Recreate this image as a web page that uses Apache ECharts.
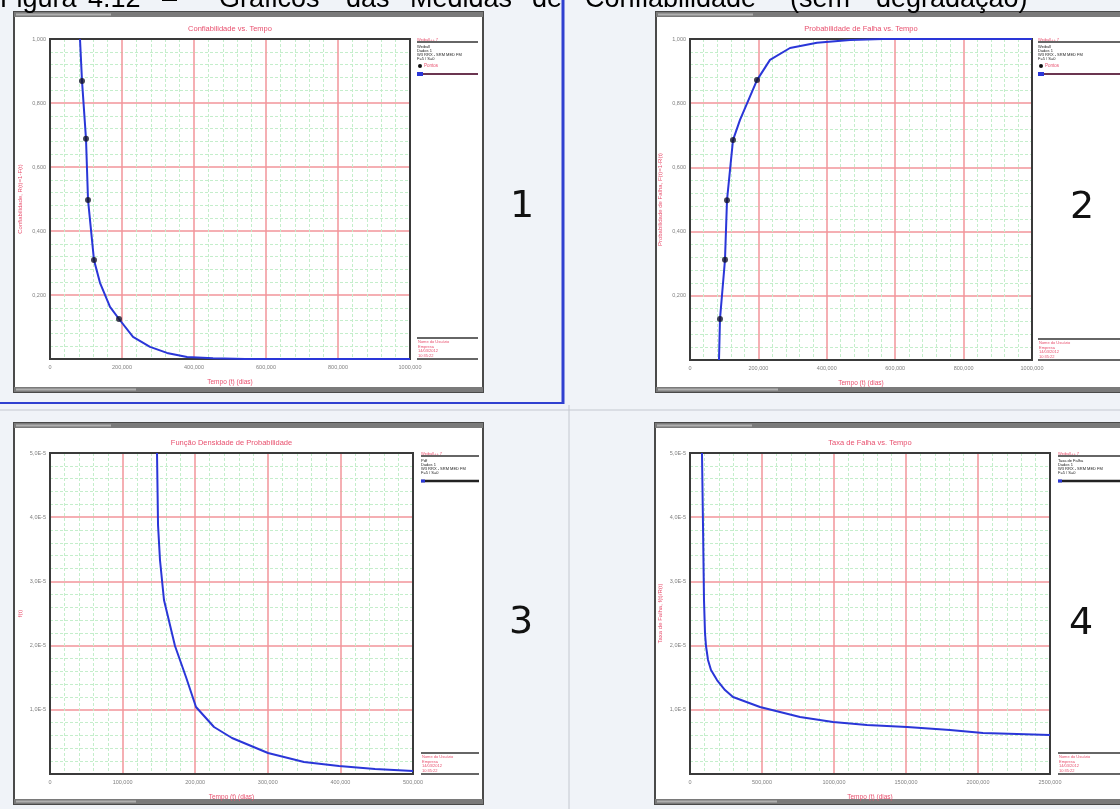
<!DOCTYPE html>
<html><head><meta charset="utf-8">
<script src="https://cdn.jsdelivr.net/npm/echarts@6/dist/echarts.min.js"></script>
<style>html,body{margin:0;padding:0;background:#f0f3f8}#c{width:1120px;height:809px}</style>
</head><body><div id="c"></div>
<script>
// ---------------- DATA ----------------
// Panel 1: Confiabilidade vs. Tempo
const rCurveT = [83300, 88900, 100000, 105600, 122200, 138900, 166700, 191700, 230600, 277800, 325000, 380600, 452800, 541700, 1000000];
const rCurveR = [1.0, 0.869, 0.688, 0.497, 0.309, 0.238, 0.163, 0.125, 0.069, 0.038, 0.019, 0.006, 0.002, 0.0, 0.0];
const rPtsT = [88900, 100000, 105600, 122200, 191700];
const rPtsR = [0.869, 0.688, 0.497, 0.309, 0.125];
// Panel 2: Probabilidade de Falha vs. Tempo
const fCurveT = [84800, 87700, 102300, 108200, 125700, 146200, 195900, 233900, 292400, 371300, 467800, 564300, 1000000];
const fCurveF = [0, 0.128, 0.312, 0.498, 0.685, 0.748, 0.872, 0.935, 0.972, 0.988, 0.997, 1.0, 1.0];
const fPtsT = [87700, 102300, 108200, 125700, 195900];
const fPtsF = [0.128, 0.312, 0.498, 0.685, 0.872];
// Panel 3: Função Densidade de Probabilidade (x 1E-5)
const pdfT = [147400, 148800, 151500, 157000, 172200, 187300, 201100, 225900, 250700, 300300, 349900, 398100, 447700, 500000];
const pdfV = [5.0, 3.879, 3.333, 2.710, 1.994, 1.511, 1.044, 0.732, 0.561, 0.327, 0.187, 0.125, 0.078, 0.047];
// Panel 4: Taxa de Falha vs. Tempo (x 1E-5)
const hazT = [83300, 90300, 97200, 104200, 111100, 125000, 145800, 187500, 243100, 298600, 486100, 763900, 993100, 1229200, 1506900, 1805600, 2034700, 2270800, 2500000];
const hazV = [5.0, 3.879, 2.710, 2.196, 1.994, 1.776, 1.620, 1.464, 1.308, 1.199, 1.044, 0.888, 0.810, 0.763, 0.732, 0.685, 0.639, 0.623, 0.607];
// axis ranges
const xMax = [1000000, 1000000, 500000, 2500000];
const yMax = [1, 1, 5, 5];
// texts
const panelTitles = ['Confiabilidade vs. Tempo', 'Probabilidade de Falha vs. Tempo', 'Função Densidade de Probabilidade', 'Taxa de Falha vs. Tempo'];
const yTitles = ['Confiabilidade, R(t)=1-F(t)', 'Probabilidade de Falha, F(t)=1-R(t)', 'f(t)', 'Taxa de Falha, f(t)/R(t)'];
const xTitle = 'Tempo (t) (dias)';
const captionWords = ['Figura', '4.12', '–', 'Gráficos', 'das', 'Medidas', 'de', 'Confiabilidade', '(sem', 'degradação)'];
const legendTop = [
  ['Weibull', 'Dados 1', 'W3 RRX - SRM MED FM', 'F=5 / S=0'],
  ['Weibull', 'Dados 1', 'W3 RRX - SRM MED FM', 'F=5 / S=0'],
  ['Pdf', 'Dados 1', 'W3 RRX - SRM MED FM', 'F=5 / S=0'],
  ['Taxa de Falha', 'Dados 1', 'W3 RRX - SRM MED FM', 'F=5 / S=0']
];
const legendBottom = ['Nome do Usuário', 'Empresa', '14/03/2012', '10:35:22'];

// ---------------- LAYOUT ----------------
const FONT = 'Liberation Sans, Arial, sans-serif';
const RED = '#e8506e', GMAJ = '#f2959a', GMIN = '#c4eecb', BLUE = '#2a36d8';
const grids = [
  {left: 50, top: 39, width: 360, height: 320},
  {left: 690, top: 39, width: 342, height: 321},
  {left: 50, top: 453, width: 363, height: 321},
  {left: 690, top: 453, width: 360, height: 321}
];
const frames = [
  {x: 14, y: 12, w: 469, h: 380},
  {x: 656, y: 12, w: 480, h: 380},
  {x: 14, y: 423, w: 469, h: 381},
  {x: 655, y: 423, w: 480, h: 381}
];
const legendX = [[417, 478], [1038, 1125], [421, 479], [1058, 1125]];
const digitPos = [[522, 207, '1'], [1082, 208, '2'], [521, 623, '3'], [1081, 624, '4']];
const capX = [0, 88, 162, 219, 346, 410, 532, 585, 790, 876];

const fmtX = v => v === 0 ? '0' : (v / 1000).toFixed(0) + ',000';
const fmtY01 = v => v === 0 ? '' : v.toFixed(3).replace('.', ',');
const fmtYE = v => v === 0 ? '' : v.toFixed(1).replace('.', ',') + 'E-5';

const majorLine = {show: true, lineStyle: {color: GMAJ, width: 1.5}};
const minorLine = {show: true, lineStyle: {color: GMIN, width: 1, type: [3, 2]}};

const xAxes = [], yAxes = [];
for (let i = 0; i < 4; i++) {
  xAxes.push({
    gridIndex: i, type: 'value', min: 0, max: xMax[i], interval: xMax[i] / 5,
    name: xTitle, nameLocation: 'middle', nameGap: 20,
    nameTextStyle: {color: RED, fontSize: 6.5, fontFamily: FONT},
    axisLine: {show: false}, axisTick: {show: false},
    axisLabel: {fontSize: 5.5, color: '#808080', margin: 5, formatter: fmtX, fontFamily: FONT},
    splitLine: majorLine,
    minorTick: {show: false, splitNumber: 5},
    minorSplitLine: minorLine
  });
  yAxes.push({
    gridIndex: i, type: 'value', min: 0, max: yMax[i], interval: yMax[i] / 5,
    name: yTitles[i], nameLocation: 'middle', nameGap: 27, nameRotate: 90,
    nameTextStyle: {color: RED, fontSize: 6, fontFamily: FONT},
    axisLine: {show: false}, axisTick: {show: false},
    axisLabel: {fontSize: 5.5, color: '#808080', margin: 4, formatter: i < 2 ? fmtY01 : fmtYE, fontFamily: FONT},
    splitLine: majorLine,
    minorTick: {show: false, splitNumber: 5},
    minorSplitLine: minorLine
  });
}

const zip = (a, b) => a.map((v, i) => [v, b[i]]);
const lineS = (i, t, v) => ({type: 'line', xAxisIndex: i, yAxisIndex: i, data: zip(t, v), showSymbol: false, silent: true,
  smooth: false, lineStyle: {color: BLUE, width: 2}, z: 5, animation: false});
const ptS = (i, t, v) => ({type: 'scatter', xAxisIndex: i, yAxisIndex: i, data: zip(t, v), symbol: 'circle', symbolSize: 6,
  itemStyle: {color: '#14142a'}, z: 6, animation: false});

const series = [
  lineS(0, rCurveT, rCurveR), ptS(0, rPtsT, rPtsR),
  lineS(1, fCurveT, fCurveF), ptS(1, fPtsT, fPtsF),
  lineS(2, pdfT, pdfV),
  lineS(3, hazT, hazV)
];

// ---------------- GRAPHIC (frames, titles, legends) ----------------
const g = [];
const txt = (x, y, s, o) => g.push(Object.assign({type: 'text', x: x, y: y, z: 20,
  style: Object.assign({text: s, fill: '#000', font: '6px ' + FONT, verticalAlign: 'middle'}, o || {})}));
const ln = (x1, y1, x2, y2, c, w, z) => g.push({type: 'line', z: z || 20, shape: {x1, y1, x2, y2}, style: {stroke: c, lineWidth: w}});
const rc = (x, y, w, h, fill, stroke, lw, z) => g.push({type: 'rect', z: z, shape: {x, y, width: w, height: h}, style: {fill: fill, stroke: stroke || null, lineWidth: lw || 0}});

// separators / selection border
ln(0, 403, 563, 403, '#3040d0', 2, 1);
ln(563, 0, 563, 404, '#3040d0', 3, 1);
ln(0, 410, 1120, 410, '#c4c8d0', 1, 1);
ln(569, 405, 569, 809, '#c4c8d0', 1, 1);

for (let i = 0; i < 4; i++) {
  const f = frames[i], gr = grids[i];
  rc(f.x, f.y, f.w, f.h, '#ffffff', '#4a4a4a', 2, -10);
  rc(f.x, f.y, f.w, 5, '#7a7a7a', null, 0, -9);
  rc(f.x + 2, f.y + 1.5, 95, 2, '#b0b0b0', null, 0, -8);
  rc(f.x, f.y + f.h - 5, f.w, 5, '#7a7a7a', null, 0, -9);
  rc(f.x + 2, f.y + f.h - 3.5, 120, 2, '#b0b0b0', null, 0, -8);
  // plot border
  g.push({type: 'rect', z: 4, shape: {x: gr.left, y: gr.top, width: gr.width, height: gr.height}, style: {fill: null, stroke: '#3a3a3a', lineWidth: 2}});
  // panel title
  txt(gr.left + gr.width / 2, gr.top - 10, panelTitles[i], {fill: RED, font: '7.5px ' + FONT, align: 'center'});
  // legend top
  const [lx0, lx1] = legendX[i];
  const yt = gr.top + 3;
  ln(lx0, yt, lx1, yt, '#333', 1.5);
  txt(lx0, yt - 2.2, 'Weibull++ 7', {fill: RED, font: '4px ' + FONT});
  legendTop[i].forEach((s, k) => txt(lx0, yt + 5 + k * 4, s, {font: '4px ' + FONT, fill: '#222'}));
  if (i < 2) {
    g.push({type: 'circle', z: 20, shape: {cx: lx0 + 3, cy: yt + 24, r: 2}, style: {fill: '#111'}});
    txt(lx0 + 7, yt + 24, 'Pontos', {fill: RED, font: '4.5px ' + FONT});
    rc(lx0, yt + 30, 6, 4, BLUE, null, 0, 20);
    ln(lx0 + 6, yt + 32, lx1, yt + 32, '#6b3550', 2);
  } else {
    ln(lx0, yt + 25, lx1, yt + 25, '#222', 2.5);
    rc(lx0, yt + 23.5, 4, 3, BLUE, null, 0, 21);
  }
  // legend bottom
  const yb2 = gr.top + gr.height, yb1 = yb2 - 21;
  ln(lx0, yb1, lx1, yb1, '#333', 1.5);
  legendBottom.forEach((s, k) => txt(lx0 + 1, yb1 + 4 + k * 4.5, s, {fill: RED, font: '4px ' + FONT}));
  ln(lx0, yb2, lx1, yb2, '#333', 1.5);
  // big digit
  const d = digitPos[i];
  txt(d[0], d[1], d[2], {font: '38px DejaVu Sans', fill: '#111', align: 'center'});
}

// caption (top, partly cut off by the page edge)
captionWords.forEach((w, k) => g.push({type: 'text', x: capX[k], y: 0, z: 30,
  style: {text: w, fill: '#000', font: '27px ' + FONT, verticalAlign: 'middle'}}));

const chart = echarts.init(document.getElementById('c'), null, {renderer: 'canvas'});
chart.setOption({
  animation: false,
  backgroundColor: 'transparent',
  grid: grids.map(gr => Object.assign({show: false, containLabel: false}, gr)),
  xAxis: xAxes, yAxis: yAxes, series: series, graphic: {elements: g}
});
</script></body></html>
